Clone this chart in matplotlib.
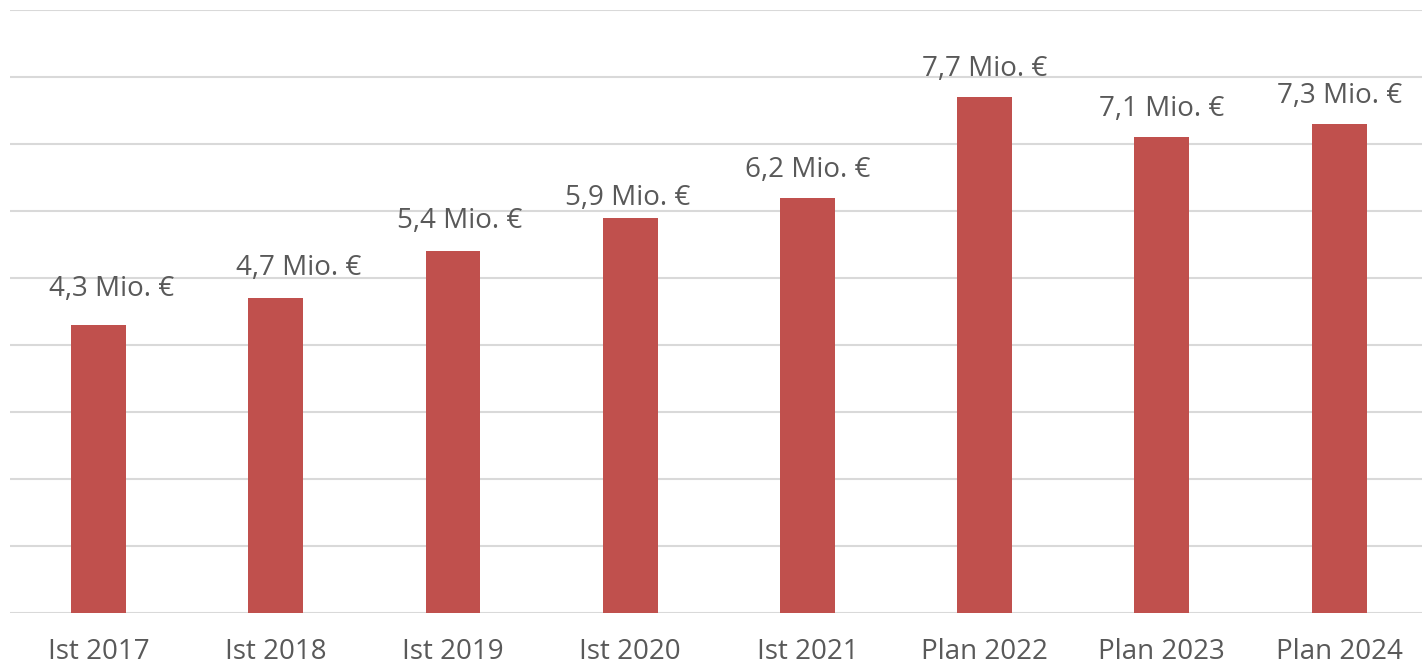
import matplotlib
matplotlib.use("Agg")
import matplotlib.pyplot as plt

categories = ["Ist 2017", "Ist 2018", "Ist 2019", "Ist 2020", "Ist 2021", "Plan 2022", "Plan 2023", "Plan 2024"]
values = [4.3, 4.7, 5.4, 5.9, 6.2, 7.7, 7.1, 7.3]
labels = ["4,3 Mio. €", "4,7 Mio. €", "5,4 Mio. €", "5,9 Mio. €", "6,2 Mio. €", "7,7 Mio. €", "7,1 Mio. €", "7,3 Mio. €"]

# manual label nudges (pixels) as in the reference
label_dx = [13, 23, 7, -3, 0, 0, 0, 0]
label_dy = [29, 23, 23, 13, 21, 21, 21, 21]

plt.rcParams['font.family'] = ['Open Sans', 'DejaVu Sans']
txt = '#595959'

fig = plt.figure(figsize=(14.22, 6.67), dpi=100)
ax = fig.add_axes([10/1422, 1 - 613/667, 1 - 10/1422, (613 - 10)/667])

x = list(range(len(categories)))
ax.bar(x, values, width=0.31, color='#C0504D', zorder=3)
for xi, v, l, dx, dy in zip(x, values, labels, label_dx, label_dy):
    ax.annotate(l, (xi, v), xytext=(dx, dy), textcoords='offset pixels',
                ha='center', va='baseline', fontsize=20, color=txt)

ax.set_ylim(0, 9)
ax.set_xlim(-0.5, 7.468)
ax.set_yticks(range(0, 10))
ax.yaxis.grid(True, color='#d9d9d9', lw=1.5, zorder=0)
ax.set_yticklabels([])
ax.tick_params(axis='y', length=0)
ax.set_xticks(x)
ax.set_xticklabels(categories, fontsize=20, color=txt)
ax.tick_params(axis='x', length=0, pad=18)
for s in ax.spines.values():
    s.set_visible(False)

fig.savefig("out.png", dpi=100)
